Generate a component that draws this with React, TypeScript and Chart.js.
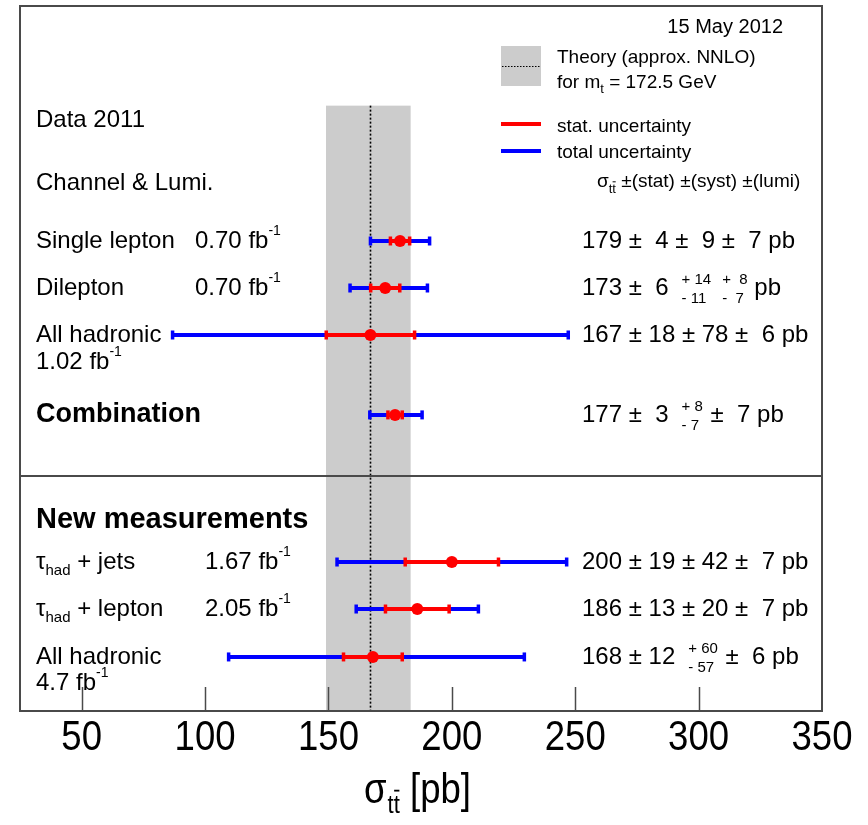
import React, { useEffect, useRef } from "react";
import { Chart, registerables } from "chart.js";

Chart.register(...registerables);

// Top-quark pair cross-section measurements, in pb
const channels = [
  "Single lepton",
  "Dilepton",
  "All hadronic",
  "Combination",
  "τ_{had} + jets",
  "τ_{had} + lepton",
  "All hadronic",
];
const lumis = ["0.70 fb^{-1}", "0.70 fb^{-1}", "1.02 fb^{-1}", "", "1.67 fb^{-1}", "2.05 fb^{-1}", "4.7 fb^{-1}"];
const xsec = [179, 173, 167, 177, 200, 186, 168];
const statErr = [4, 6, 18, 3, 19, 13, 12];
const systUp = [9, 14, 78, 8, 42, 20, 60];
const systDown = [9, 11, 78, 7, 42, 20, 57];
const lumiUp = [7, 8, 6, 7, 7, 7, 6];
const lumiDown = [7, 7, 6, 7, 7, 7, 6];
const rowPos = [5, 6, 7, 8.7, 11.83, 12.83, 13.85];
const boldRows = [3];

// Approx. NNLO prediction for m_t = 172.5 GeV
const theoryCentral = 166.8;
const theoryUp = 16.5;
const theoryDown = 17.8;

const xTicks = [50, 100, 150, 200, 250, 300, 350];

// vertical layout in row units
const Y_MAX = 15;
const DIVIDER_ROW = 10;
const BAND_TOP_ROW = 2.12;

// luminosity label placement: same line at a column, or on the line below
const lumiPlacement = [
  { x: 195, dy: 0 },
  { x: 195, dy: 0 },
  { x: 36, dy: 27 },
  null,
  { x: 205, dy: 0 },
  { x: 205, dy: 0 },
  { x: 36, dy: 26 },
];

const SANS = '"Liberation Sans", Arial, Helvetica, sans-serif';
const SQUEEZE = 0.85; // horizontal compression of the axis lettering
const RED = "#ff0000";
const BLUE = "#0000ff";
const FRAME = "#4a4a4a";

const quad = (...v: number[]) => Math.sqrt(v.reduce((s, a) => s + a * a, 0));
const totUp = xsec.map((_, i) => quad(statErr[i], systUp[i], lumiUp[i]));
const totDown = xsec.map((_, i) => quad(statErr[i], systDown[i], lumiDown[i]));

type Seg = { t: string; kind: "n" | "sub" | "sup" };

function parse(s: string): Seg[] {
  const out: Seg[] = [];
  let buf = "";
  let i = 0;
  while (i < s.length) {
    if ((s[i] === "_" || s[i] === "^") && s[i + 1] === "{") {
      if (buf) {
        out.push({ t: buf, kind: "n" });
        buf = "";
      }
      const end = s.indexOf("}", i);
      out.push({ t: s.slice(i + 2, end), kind: s[i] === "_" ? "sub" : "sup" });
      i = end + 1;
    } else {
      buf += s[i];
      i++;
    }
  }
  if (buf) out.push({ t: buf, kind: "n" });
  return out;
}

function font(size: number, bold = false) {
  return `${bold ? "bold " : ""}${size}px ${SANS}`;
}

function drawRich(
  ctx: CanvasRenderingContext2D,
  s: string,
  x: number,
  y: number,
  size: number,
  opts: { bold?: boolean; subSize?: number; subDy?: number; supSize?: number; supDy?: number } = {}
) {
  const { bold = false, subSize = size * 0.65, subDy = size * 0.22, supSize = size * 0.6, supDy = -size * 0.6 } = opts;
  let cx = x;
  ctx.textAlign = "left";
  ctx.textBaseline = "alphabetic";
  for (const seg of parse(s)) {
    let sz = size;
    let dy = 0;
    if (seg.kind === "sub") {
      sz = subSize;
      dy = subDy;
    } else if (seg.kind === "sup") {
      sz = supSize;
      dy = supDy;
    }
    ctx.font = font(sz, bold);
    ctx.fillText(seg.t, cx, y + dy);
    cx += ctx.measureText(seg.t).width;
  }
  return cx;
}

// horizontally compressed text; returns the advance in pixels
function drawSqueezed(ctx: CanvasRenderingContext2D, s: string, x: number, y: number, size: number, align: CanvasTextAlign = "left") {
  ctx.save();
  ctx.font = font(size);
  ctx.textAlign = align;
  ctx.textBaseline = "alphabetic";
  ctx.translate(x, y);
  ctx.scale(SQUEEZE, 1);
  ctx.fillText(s, 0, 0);
  const w = ctx.measureText(s).width * SQUEEZE;
  ctx.restore();
  return w;
}

// "tt" with a bar over the second t
function drawTTbar(ctx: CanvasRenderingContext2D, x: number, y: number, size: number, sx = 1) {
  ctx.save();
  ctx.font = font(size);
  ctx.textAlign = "left";
  ctx.textBaseline = "alphabetic";
  ctx.translate(x, y);
  ctx.scale(sx, 1);
  ctx.fillText("tt", 0, 0);
  const wt = ctx.measureText("t").width;
  const w = ctx.measureText("tt").width;
  ctx.strokeStyle = "#000";
  ctx.lineWidth = Math.max(1, size * 0.07);
  ctx.beginPath();
  ctx.moveTo(wt + size * 0.02, -size * 0.86);
  ctx.lineTo(w - size * 0.02, -size * 0.86);
  ctx.stroke();
  ctx.restore();
  return x + w * sx;
}

const pad = (v: number) => (v < 10 ? " " + v : String(v));

function drawStack(ctx: CanvasRenderingContext2D, up: string, dn: string, x: number, y: number, size: number) {
  ctx.font = font(size);
  ctx.textAlign = "left";
  ctx.fillText(up, x, y - 11);
  ctx.fillText(dn, x, y + 8);
  return x + Math.max(ctx.measureText(up).width, ctx.measureText(dn).width);
}

// "value ± stat ± syst ± lumi pb", stacking asymmetric uncertainties
function drawValue(ctx: CanvasRenderingContext2D, i: number, x: number, y: number) {
  const size = 24;
  const small = 15;
  ctx.font = font(size);
  ctx.textAlign = "left";
  ctx.textBaseline = "alphabetic";
  let head = `${xsec[i]} ± ${pad(statErr[i])}`;
  let cx = x;
  const systSym = systUp[i] === systDown[i];
  const lumiSym = lumiUp[i] === lumiDown[i];
  if (systSym) {
    head += ` ± ${pad(systUp[i])}`;
    if (lumiSym) {
      ctx.fillText(`${head} ± ${pad(lumiUp[i])} pb`, cx, y);
      return;
    }
    ctx.fillText(head, cx, y);
    cx += ctx.measureText(head).width + 12;
  } else {
    ctx.fillText(head, cx, y);
    cx += ctx.measureText(head).width + 13;
    cx = drawStack(ctx, `+ ${systUp[i]}`, `- ${systDown[i]}`, cx, y, small);
    if (lumiSym) {
      ctx.font = font(size);
      ctx.fillText(` ± ${pad(lumiUp[i])} pb`, cx + 1, y);
      return;
    }
    cx += 11;
  }
  cx = drawStack(ctx, `+  ${lumiUp[i]}`, `-  ${lumiDown[i]}`, cx, y, small);
  ctx.font = font(size);
  ctx.fillText(" pb", cx, y);
}

const decorations = {
  id: "xsecDecorations",
  beforeDatasetsDraw(chart: Chart) {
    const { ctx, chartArea: ca } = chart;
    const x = chart.scales.x;
    const y = chart.scales.y;
    ctx.save();

    // theory band with its central value
    const bx0 = x.getPixelForValue(theoryCentral - theoryDown);
    const bx1 = x.getPixelForValue(theoryCentral + theoryUp);
    const by0 = y.getPixelForValue(BAND_TOP_ROW);
    ctx.fillStyle = "#cccccc";
    ctx.fillRect(bx0, by0, bx1 - bx0, ca.bottom - by0);
    const cxp = Math.round(x.getPixelForValue(theoryCentral)) + 0.5;
    ctx.strokeStyle = "#000";
    ctx.lineWidth = 1.6;
    ctx.setLineDash([2, 2]);
    ctx.beginPath();
    ctx.moveTo(cxp, by0);
    ctx.lineTo(cxp, ca.bottom);
    ctx.stroke();
    ctx.setLineDash([]);

    // divider between the two blocks
    const dy = Math.round(y.getPixelForValue(DIVIDER_ROW));
    ctx.strokeStyle = FRAME;
    ctx.lineWidth = 2;
    ctx.beginPath();
    ctx.moveTo(ca.left, dy);
    ctx.lineTo(ca.right, dy);
    ctx.stroke();

    // error bars: total (blue) under statistical (red)
    const bar = (lo: number, hi: number, py: number, color: string) => {
      const p0 = x.getPixelForValue(lo);
      const p1 = x.getPixelForValue(hi);
      ctx.strokeStyle = color;
      ctx.fillStyle = color;
      ctx.lineWidth = 4;
      ctx.beginPath();
      ctx.moveTo(p0, py);
      ctx.lineTo(p1, py);
      ctx.stroke();
      ctx.fillRect(p0 - 1.5, py - 4.5, 3.5, 9);
      ctx.fillRect(p1 - 2, py - 4.5, 3.5, 9);
    };
    xsec.forEach((v, i) => {
      const py = y.getPixelForValue(rowPos[i]);
      bar(v - totDown[i], v + totUp[i], py, BLUE);
      bar(v - statErr[i], v + statErr[i], py, RED);
    });
    ctx.restore();
  },
  afterDraw(chart: Chart) {
    const { ctx, chartArea: ca } = chart;
    const x = chart.scales.x;
    const y = chart.scales.y;
    ctx.save();

    // frame
    ctx.strokeStyle = FRAME;
    ctx.lineWidth = 2;
    ctx.strokeRect(Math.round(ca.left), Math.round(ca.top), Math.round(ca.right - ca.left), Math.round(ca.bottom - ca.top));

    // inward tick marks and their labels
    ctx.lineWidth = 1.5;
    ctx.fillStyle = "#000";
    x.ticks.forEach((t: { value: number }) => {
      const px = x.getPixelForValue(t.value);
      if (px < ca.right - 1) {
        const lx = Math.round(px) + 0.5;
        ctx.beginPath();
        ctx.moveTo(lx, ca.bottom);
        ctx.lineTo(lx, ca.bottom - 24);
        ctx.stroke();
      }
      drawSqueezed(ctx, String(t.value), px, ca.bottom + 39, 43, "center");
    });

    // axis title σ_tt̄ [pb]
    const ty = 803;
    let tx = 364;
    tx += drawSqueezed(ctx, "σ", tx, ty, 43) + 1;
    tx = drawTTbar(ctx, tx, ty + 10, 26, SQUEEZE);
    drawSqueezed(ctx, " [pb]", tx, ty, 43);

    // headings
    drawRich(ctx, "Data 2011", 36, 127, 24);
    drawRich(ctx, "Channel & Lumi.", 36, 190, 24);
    drawRich(ctx, "New measurements", 36, 528, 29, { bold: true });

    // per-channel labels and values
    channels.forEach((name, i) => {
      const base = Math.round(y.getPixelForValue(rowPos[i])) + 7;
      const bold = boldRows.includes(i);
      drawRich(ctx, name, 36, base, bold ? 27 : 24, { bold, subSize: 15, subDy: 6 });
      const lp = lumiPlacement[i];
      if (lp && lumis[i]) drawRich(ctx, lumis[i], lp.x, base + lp.dy, 24, { supSize: 14, supDy: -13 });
      drawValue(ctx, i, 582, base);
    });

    // legend
    ctx.font = font(20);
    ctx.textAlign = "right";
    ctx.fillText("15 May 2012", 783, 33);

    ctx.fillStyle = "#cccccc";
    ctx.fillRect(501, 46, 40, 40);
    ctx.strokeStyle = "#000";
    ctx.lineWidth = 1.2;
    ctx.setLineDash([1.5, 1.5]);
    ctx.beginPath();
    ctx.moveTo(502, 66.5);
    ctx.lineTo(540, 66.5);
    ctx.stroke();
    ctx.setLineDash([]);

    ctx.fillStyle = "#000";
    drawRich(ctx, "Theory (approx. NNLO)", 557, 63, 19);
    drawRich(ctx, "for m_{t} = 172.5 GeV", 557, 88, 19, { subSize: 13, subDy: 5 });

    ctx.lineWidth = 4;
    ctx.strokeStyle = RED;
    ctx.beginPath();
    ctx.moveTo(501, 124);
    ctx.lineTo(541, 124);
    ctx.stroke();
    ctx.strokeStyle = BLUE;
    ctx.beginPath();
    ctx.moveTo(501, 151);
    ctx.lineTo(541, 151);
    ctx.stroke();
    drawRich(ctx, "stat. uncertainty", 557, 132, 19);
    drawRich(ctx, "total uncertainty", 557, 158, 19);

    ctx.font = font(19);
    ctx.textAlign = "left";
    ctx.fillText("σ", 597, 187);
    let lx = 597 + ctx.measureText("σ").width;
    lx = drawTTbar(ctx, lx, 193, 13);
    ctx.font = font(19);
    ctx.fillText(" ±(stat) ±(syst) ±(lumi)", lx, 187);

    ctx.restore();
  },
};

export default function App() {
  const ref = useRef<HTMLCanvasElement | null>(null);

  useEffect(() => {
    document.body.style.margin = "0";
    if (!ref.current) return;
    const chart = new Chart(ref.current, {
      type: "scatter",
      data: {
        datasets: [
          {
            data: xsec.map((v, i) => ({ x: v, y: rowPos[i] })),
            backgroundColor: RED,
            borderWidth: 0,
            pointRadius: 6,
            pointHoverRadius: 6,
          },
        ],
      },
      options: {
        responsive: false,
        animation: false,
        devicePixelRatio: 1,
        events: [],
        layout: { padding: { left: 20, right: 46, top: 5, bottom: 0 } },
        plugins: { legend: { display: false }, tooltip: { enabled: false } },
        scales: {
          x: {
            type: "linear",
            min: 25,
            max: 350,
            position: "bottom",
            afterBuildTicks: (s: any) => {
              s.ticks = xTicks.map((v) => ({ value: v }));
            },
            afterFit: (s: any) => {
              s.height = 114;
            },
            grid: { display: false, drawTicks: false, tickLength: 0 },
            border: { display: false },
            ticks: { display: false },
          },
          y: { type: "linear", min: 0, max: Y_MAX, reverse: true, display: false },
        },
      },
      plugins: [decorations],
    });
    return () => chart.destroy();
  }, []);

  return <canvas ref={ref} width={868} height={825} style={{ display: "block", background: "#fff" }} />;
}
